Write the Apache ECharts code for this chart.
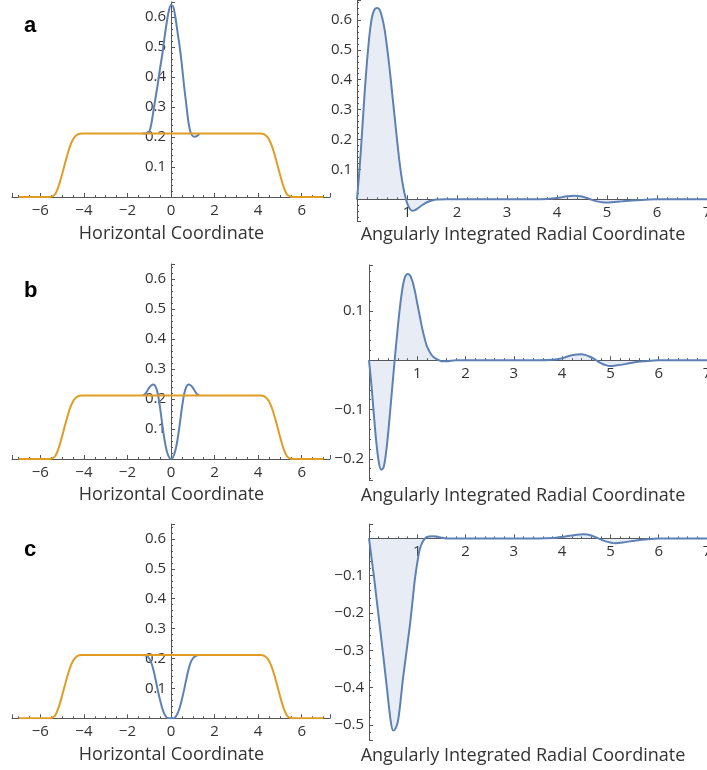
<!DOCTYPE html>
<html><head><meta charset="utf-8">
<script src="https://cdn.jsdelivr.net/npm/echarts@6/dist/echarts.min.js"></script>
<style>html,body{margin:0;padding:0;background:#fff}#c{width:707px;height:770px}</style>
</head><body><div id="c"></div>
<script>
// ---- data ----
const orangeX = [-7,-6,-5.6,-5.5,-5.4,-5.3,-5.2,-5.1,-5.0,-4.9,-4.8,-4.7,-4.6,-4.5,-4.4,-4.3,-4.2,-4.1,-4.0,-2,0,2,4.0,4.1,4.2,4.3,4.4,4.5,4.6,4.7,4.8,4.9,5.0,5.1,5.2,5.3,5.4,5.5,5.6,6,7];
const orangeY = [0,0,0,0.001,0.004,0.012,0.028,0.05,0.076,0.103,0.13,0.155,0.176,0.192,0.202,0.208,0.211,0.212,0.212,0.212,0.212,0.212,0.212,0.212,0.211,0.208,0.202,0.192,0.176,0.155,0.13,0.103,0.076,0.05,0.028,0.012,0.004,0.001,0,0,0];

const leftX = [-1.3,-1.2,-1.1,-1.0,-0.9,-0.8,-0.7,-0.6,-0.5,-0.4,-0.3,-0.2,-0.1,0,0.1,0.2,0.3,0.4,0.5,0.6,0.7,0.8,0.9,1.0,1.1,1.2,1.3];
const leftBlueA = [0.212,0.212,0.213,0.217,0.245,0.29,0.335,0.38,0.43,0.475,0.53,0.58,0.62,0.64,0.635,0.6,0.55,0.5,0.44,0.37,0.31,0.25,0.215,0.203,0.201,0.204,0.21];
const leftBlueB = [0.212,0.216,0.226,0.238,0.246,0.248,0.24,0.215,0.17,0.115,0.065,0.028,0.007,0,0.007,0.028,0.065,0.115,0.17,0.215,0.24,0.248,0.246,0.238,0.226,0.216,0.212];
const leftBlueC = [0.212,0.211,0.208,0.2,0.185,0.16,0.127,0.092,0.06,0.033,0.014,0.003,0,0,0,0.004,0.016,0.036,0.063,0.095,0.13,0.162,0.186,0.2,0.207,0.211,0.212];

const radialXA = [0,0.05,0.1,0.15,0.2,0.25,0.3,0.35,0.4,0.45,0.5,0.55,0.6,0.65,0.7,0.75,0.8,0.85,0.9,0.95,1.0,1.05,1.1,1.15,1.2,1.3,1.4,1.5,1.6,1.8,2.5,3.5,3.8,4.0,4.2,4.35,4.5,4.6,4.7,4.8,4.9,5.0,5.1,5.3,5.5,5.7,6.0,7.0];
const radialYA = [0,0.1,0.22,0.35,0.46,0.55,0.61,0.635,0.64,0.635,0.61,0.57,0.51,0.44,0.36,0.28,0.2,0.125,0.065,0.02,-0.012,-0.03,-0.038,-0.037,-0.032,-0.02,-0.01,-0.004,-0.001,0,0,0,0.001,0.004,0.01,0.012,0.009,0.004,-0.002,-0.007,-0.01,-0.011,-0.01,-0.007,-0.004,-0.002,0,0];

const radialXB = [0,0.05,0.1,0.15,0.2,0.25,0.3,0.35,0.4,0.45,0.5,0.55,0.6,0.65,0.7,0.75,0.8,0.85,0.9,0.95,1.0,1.05,1.1,1.15,1.2,1.3,1.4,1.5,1.6,1.8,2.5,3.5,3.8,4.0,4.2,4.4,4.6,4.7,4.8,4.9,5.0,5.1,5.3,5.5,5.7,6.0,7.0];
const radialYB = [0,-0.05,-0.11,-0.165,-0.205,-0.222,-0.218,-0.19,-0.145,-0.09,-0.035,0.02,0.07,0.115,0.15,0.17,0.175,0.172,0.16,0.14,0.115,0.09,0.065,0.045,0.028,0.01,0.002,-0.002,-0.002,0,0,0,0.001,0.004,0.01,0.012,0.006,0,-0.006,-0.01,-0.012,-0.011,-0.008,-0.004,-0.002,0,0];

const radialXC = [0,0.05,0.1,0.15,0.2,0.25,0.3,0.37,0.45,0.5,0.55,0.6,0.65,0.7,0.75,0.8,0.85,0.9,0.95,1.0,1.05,1.1,1.15,1.2,1.3,1.4,1.5,1.6,1.8,2.5,3.5,3.8,4.0,4.2,4.45,4.6,4.75,4.9,5.1,5.3,5.5,5.7,6.0,7.0];
const radialYC = [0,-0.05,-0.1,-0.155,-0.21,-0.265,-0.32,-0.4,-0.49,-0.515,-0.51,-0.49,-0.44,-0.38,-0.33,-0.28,-0.23,-0.17,-0.11,-0.065,-0.03,-0.012,-0.002,0.004,0.006,0.005,0.002,0,0,0,0,0.001,0.004,0.008,0.011,0.008,0,-0.008,-0.013,-0.01,-0.006,-0.003,0,0];

const panelLetters = ['a','b','c'];
const leftTitle = 'Horizontal Coordinate';
const rightTitle = 'Angularly Integrated Radial Coordinate';

// ---- styling ----
const BLUE = '#5E81B5', ORANGE = '#E19C24';
const FONT = 'Open Sans';
const AX = '#555', TXT = '#333';
const pairs = (xs, ys) => xs.map((x, i) => [x, ys[i]]);
const fmtMinus = s => s.replace('-', '\u2212');
const near = (v, step) => Math.abs(v - Math.round(v / step) * step) < 1e-6;

const gridBoxes = [
  {left: 12,  top: 2,   width: 318, height: 195},
  {left: 357, top: 0.5, width: 350, height: 221.2},
  {left: 12,  top: 264, width: 318, height: 195},
  {left: 369, top: 265, width: 338, height: 215},
  {left: 12,  top: 524, width: 318, height: 194.3},
  {left: 369, top: 524, width: 338, height: 216}
];
const grids = gridBoxes.map(g => Object.assign({containLabel: false, outerBoundsMode: 'none'}, g));

const xRanges = [[-7.3,7.3],[0,7],[-7.3,7.3],[0,7],[-7.3,7.3],[0,7]];
const yRanges = [[0,0.65],[-0.075,0.665],[0,0.65],[-0.243,0.193],[0,0.65],[-0.5405,0.0386]];

const tickStyle = {show: true, inside: true, length: 4, lineStyle: {color: AX, width: 1}};
const xAxis = [], yAxis = [];
for (let i = 0; i < 6; i++) {
  const left = i % 2 === 0;
  const g = gridBoxes[i], xr = xRanges[i], yr = yRanges[i];
  // axis lines sit where the other coordinate is zero
  const yOff = -g.width * (0 - xr[0]) / (xr[1] - xr[0]);
  const xOff = -g.height * (0 - yr[0]) / (yr[1] - yr[0]);
  xAxis.push({
    type: 'value', gridIndex: i, position: 'bottom', offset: xOff,
    min: xr[0], max: xr[1],
    minInterval: left ? 2 : 1, maxInterval: left ? 2 : 1,
    axisLine: {onZero: false, lineStyle: {color: AX, width: 1}},
    axisTick: tickStyle,
    minorTick: {show: true, splitNumber: left ? 4 : 5, length: 2, lineStyle: {color: AX}},
    splitLine: {show: false}, minorSplitLine: {show: false},
    axisLabel: {
      margin: 6, color: TXT, fontFamily: FONT, fontSize: 15,
      formatter: v => {
        const step = left ? 2 : 1;
        if (!near(v, step)) return '';
        if (!left && Math.abs(v) < 1e-9) return '';
        return fmtMinus(String(Math.round(v)));
      }
    }
  });
  yAxis.push({
    type: 'value', gridIndex: i, position: 'left', offset: yOff,
    min: yr[0], max: yr[1],
    minInterval: 0.1, maxInterval: 0.1,
    axisLine: {onZero: false, lineStyle: {color: AX, width: 1}},
    axisTick: tickStyle,
    minorTick: {show: true, splitNumber: 5, length: 2, lineStyle: {color: AX}},
    splitLine: {show: false}, minorSplitLine: {show: false},
    axisLabel: {
      margin: 5, color: TXT, fontFamily: FONT, fontSize: 15,
      formatter: v => {
        if (Math.abs(v) < 1e-9 || !near(v, 0.1)) return '';
        return fmtMinus((Math.round(v * 10) / 10).toFixed(1));
      }
    }
  });
}

const leftBlues = [leftBlueA, leftBlueB, leftBlueC];
const radX = [radialXA, radialXB, radialXC];
const radY = [radialYA, radialYB, radialYC];
const series = [];
for (let p = 0; p < 3; p++) {
  series.push({type: 'line', xAxisIndex: 2*p, yAxisIndex: 2*p, data: pairs(leftX, leftBlues[p]),
    showSymbol: false, smooth: 0.3, lineStyle: {color: BLUE, width: 2}, itemStyle: {color: BLUE}, z: 2});
  series.push({type: 'line', xAxisIndex: 2*p, yAxisIndex: 2*p, data: pairs(orangeX, orangeY),
    showSymbol: false, smooth: 0.3, lineStyle: {color: ORANGE, width: 2}, itemStyle: {color: ORANGE}, z: 3});
  series.push({type: 'line', xAxisIndex: 2*p+1, yAxisIndex: 2*p+1, data: pairs(radX[p], radY[p]),
    showSymbol: false, smooth: 0.3, lineStyle: {color: BLUE, width: 2}, itemStyle: {color: BLUE},
    areaStyle: {color: 'rgba(94,129,181,0.2)', origin: 'auto'}, z: 2});
}

const letterY = [28, 293, 552];
const titleY = [234, 495, 755];
const graphic = [];
for (let p = 0; p < 3; p++) {
  graphic.push({type: 'text', left: 24, top: letterY[p] - 13,
    style: {text: panelLetters[p], font: 'bold 22px "Liberation Sans", Arial', fill: '#000'}});
  graphic.push({type: 'text', x: 171.5, y: titleY[p],
    style: {text: leftTitle, fontFamily: FONT, fontSize: 18, fill: TXT, align: 'center', verticalAlign: 'middle'}});
  graphic.push({type: 'text', x: 523, y: titleY[p] + 1,
    style: {text: rightTitle, fontFamily: FONT, fontSize: 18, fill: TXT, align: 'center', verticalAlign: 'middle'}});
}

const chart = echarts.init(document.getElementById('c'), null, {renderer: 'canvas'});
chart.setOption({animation: false, grid: grids, xAxis, yAxis, series, graphic});
</script></body></html>
